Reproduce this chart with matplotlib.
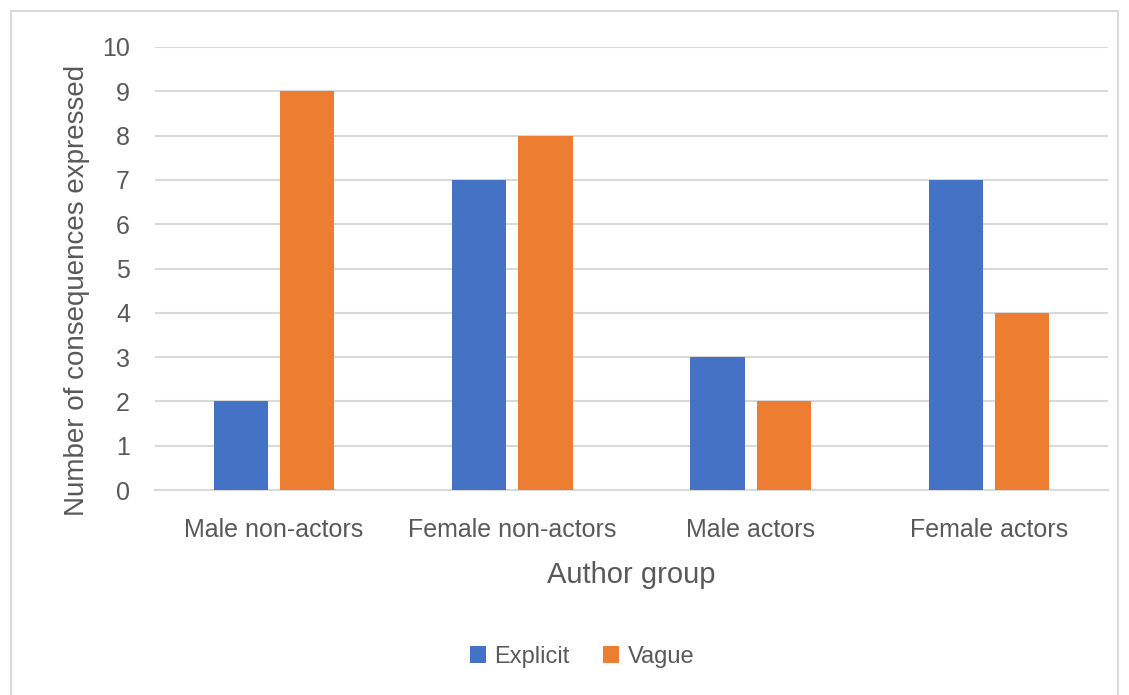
import numpy as np
import matplotlib.pyplot as plt
from matplotlib.patches import Rectangle

groups = ['Male non-actors', 'Female non-actors', 'Male actors', 'Female actors']
explicit = [2, 7, 3, 7]
vague = [9, 8, 2, 4]

plt.rcParams['font.family'] = ['Liberation Sans', 'DejaVu Sans']
txt = '#595959'

fig = plt.figure(figsize=(11.29, 6.95), dpi=100)
ax = fig.add_axes([155 / 1129, 1 - 490 / 695, (1108 - 155) / 1129, (490 - 47) / 695])

x = np.arange(len(groups))
w = 0.227
ax.bar(x - 0.139, explicit, w, color='#4472C4', label='Explicit', zorder=3)
ax.bar(x + 0.139, vague, w, color='#ED7D31', label='Vague', zorder=3)

ax.set_xlim(-0.5, len(groups) - 0.5)
ax.set_ylim(0, 10)
ax.set_yticks(range(0, 11))
ax.set_xticks(x)
ax.set_xticklabels(groups)
ax.tick_params(axis='both', length=0, labelsize=18, colors=txt)
ax.tick_params(axis='x', pad=20)
ax.tick_params(axis='y', pad=18)
ax.grid(axis='y', color='#D9D9D9', linewidth=1.5, zorder=0)
for s in ['top', 'right', 'left']:
    ax.spines[s].set_visible(False)
ax.spines['bottom'].set_color('#D9D9D9')
ax.spines['bottom'].set_linewidth(1.5)

ax.set_xlabel('Author group', fontsize=21, color=txt, labelpad=14)
ax.set_ylabel('Number of consequences expressed', fontsize=20, color=txt)
ax.yaxis.set_label_coords(90 / 1129, 1 - 290 / 695, transform=fig.transFigure)

ax.legend(loc='center', bbox_to_anchor=(582 / 1129, 1 - 657 / 695), bbox_transform=fig.transFigure,
          ncol=2, frameon=False, fontsize=17, handlelength=0.7, handleheight=0.7,
          handletextpad=0.35, columnspacing=1.4, labelcolor=txt)

fig.patches.append(Rectangle((11 / 1129, -0.01), (1118 - 11) / 1129, 1 - 11 / 695 + 0.01,
                             transform=fig.transFigure, fill=False, edgecolor='#D9D9D9', linewidth=1.5))

fig.savefig('out.png', dpi=100)
